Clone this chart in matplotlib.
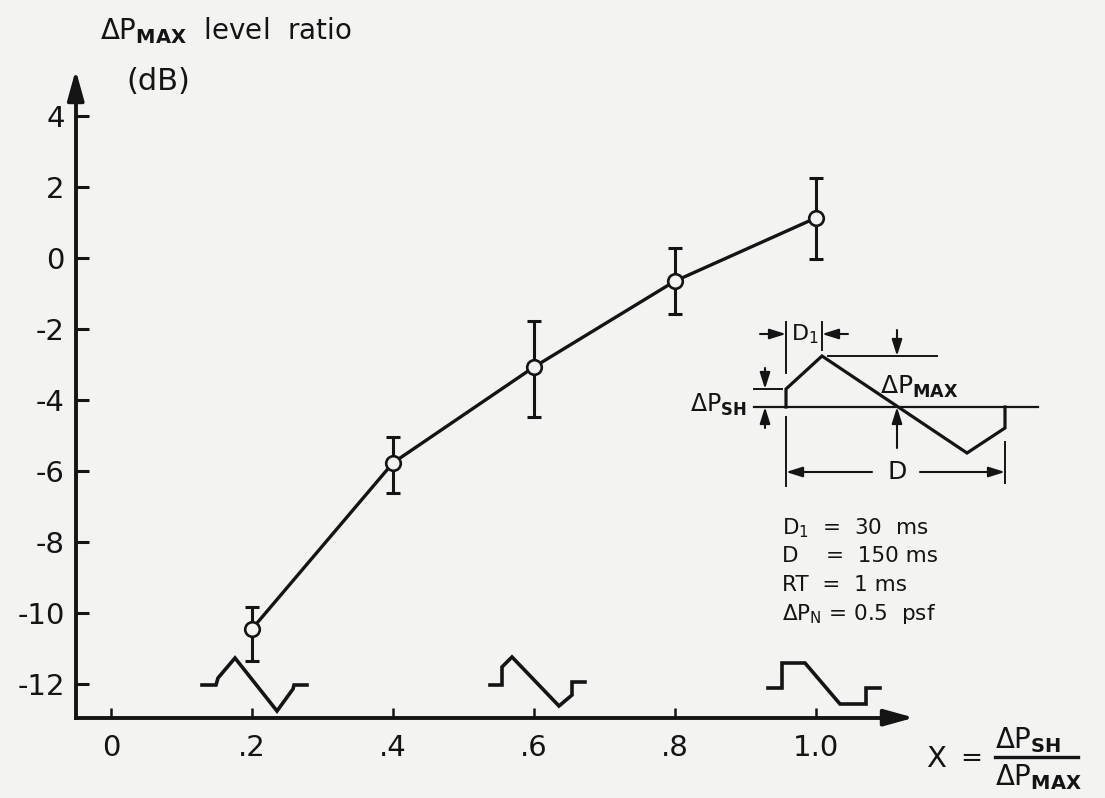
import matplotlib
matplotlib.use("Agg")
import matplotlib.pyplot as plt
from matplotlib.transforms import Affine2D
from matplotlib.lines import Line2D

# ---------------- data ----------------
x_vals = [0.2, 0.4, 0.6, 0.8, 1.0]
level_ratio_db = [-10.45, -5.77, -3.07, -0.65, 1.13]
err_upper_db = [-9.84, -5.04, -1.77, 0.28, 2.25]
err_lower_db = [-11.35, -6.62, -4.48, -1.58, -0.03]
x_ticks = [0, 0.2, 0.4, 0.6, 0.8, 1.0]
x_tick_labels = ["0", ".2", ".4", ".6", ".8", "1.0"]
y_ticks = [-12, -10, -8, -6, -4, -2, 0, 2, 4]
y_tick_labels = ["-12", "-10", "-8", "-6", "-4", "-2", "0", "2", "4"]
params_text = [r"$\mathregular{D_1}$  =  30  ms",
               r"D    =  150 ms",
               r"RT  =  1 ms",
               r"$\mathregular{\Delta P_N}$ = 0.5  psf"]

# ---------------- style ----------------
INK = "#141414"
BG = "#f3f3f1"
plt.rcParams["font.family"] = ["DejaVu Sans"]
plt.rcParams["mathtext.fontset"] = "dejavusans"

W, H = 1105, 798
fig = plt.figure(figsize=(W / 100, H / 100), dpi=100, facecolor=BG)
ax = fig.add_axes([0, 0, 1, 1], facecolor=BG)
ax.set_xlim(-111 / 705, (W - 111) / 705)
ax.set_ylim((258 - H) / 35.5, 258 / 35.5)

# pixel-space transform (origin top-left) for schematic decorations
T = Affine2D().scale(1 / W, -1 / H).translate(0, 1) + fig.transFigure

# axes as spines
for s in ["top", "right"]:
    ax.spines[s].set_visible(False)
ax.spines["left"].set_position(("data", -0.05))
ax.spines["bottom"].set_position(("data", -12.95))
ax.spines["left"].set_bounds(-12.95, 4.6)
ax.spines["bottom"].set_bounds(-0.05, 1.10)
for s in ["left", "bottom"]:
    ax.spines[s].set_linewidth(2.8)
    ax.spines[s].set_color(INK)

ax.set_xticks(x_ticks)
ax.set_xticklabels(x_tick_labels)
ax.set_yticks(y_ticks)
ax.set_yticklabels(y_tick_labels)
ax.tick_params(axis="y", direction="in", length=9, width=2.2, pad=8,
               labelsize=21, colors=INK)
ax.tick_params(axis="x", direction="in", length=7, width=1.8, pad=12,
               labelsize=21, colors=INK)

arrow_kw = dict(arrowstyle="-|>,head_length=0.9,head_width=0.25",
                color=INK, lw=2.8, mutation_scale=20, shrinkA=0, shrinkB=0)
ax.annotate("", xy=(75.75, 70), xytext=(75.75, 100), xycoords=T,
            textcoords=T, arrowprops=arrow_kw)
ax.annotate("", xy=(914, 717.7), xytext=(885, 717.7), xycoords=T,
            textcoords=T, arrowprops=arrow_kw)

# ---------------- data marks ----------------
yerr = [[y - lo for y, lo in zip(level_ratio_db, err_lower_db)],
        [hi - y for y, hi in zip(level_ratio_db, err_upper_db)]]
ax.errorbar(x_vals, level_ratio_db, yerr=yerr, fmt="none", ecolor=INK,
            elinewidth=2.2, capsize=5, capthick=2.2, zorder=2)
ax.plot(x_vals, level_ratio_db, color=INK, lw=2.4, zorder=3)
ax.plot(x_vals, level_ratio_db, linestyle="none", marker="o", ms=10.5,
        mfc=BG, mec=INK, mew=1.9, zorder=4)

# ---------------- texts ----------------
def ptext(px, py, s, **kw):
    kw.setdefault("color", INK)
    fig.text(px / W, 1 - py / H, s, **kw)

DPMAX = r"$\mathregular{\Delta P}_{\mathbf{MAX}}$"
DPSH = r"$\mathregular{\Delta P}_{\mathbf{SH}}$"

ptext(100, 31, DPMAX + "  level  ratio", fontsize=20, ha="left",
      va="center")
ptext(126, 81, "(dB)", fontsize=22, ha="left", va="center")

# x label:  X = dPsh / dPmax
ptext(926, 759, "X", fontsize=21, ha="left", va="center")
ptext(960, 759, "=", fontsize=19, ha="left", va="center")
ptext(995, 740, DPSH, fontsize=20, ha="left", va="center")
ptext(995, 777, DPMAX, fontsize=20, ha="left", va="center")

def pline(pts, lw=2.0, **kw):
    xs = [p[0] for p in pts]
    ys = [p[1] for p in pts]
    fig.add_artist(Line2D(xs, ys, transform=T, color=INK, lw=lw,
                          solid_joinstyle="miter", **kw))

pline([(995, 757), (1078, 757)], lw=2.4)

# ---------------- small waveform icons ----------------
pline([(202, 685), (216, 685), (218, 678), (235, 658), (277, 711),
       (293, 689), (294, 685), (307, 685)], lw=2.6)
pline([(490, 685), (502, 685), (502, 667), (512, 657), (559, 706),
       (572, 695), (572, 682), (585, 682)], lw=2.6)
pline([(768, 688), (782, 688), (782, 663), (805, 663), (840, 704),
       (866, 704), (866, 688), (880, 688)], lw=2.6)

# ---------------- inset schematic ----------------
small_arrow = dict(arrowstyle="-|>,head_length=0.7,head_width=0.22",
                   color=INK, lw=1.5, mutation_scale=14, shrinkA=0, shrinkB=0)

def parrow(x1, y1, x2, y2):
    ax.annotate("", xy=(x2, y2), xytext=(x1, y1), xycoords=T,
                textcoords=T, arrowprops=small_arrow)

# waveform
pline([(786, 407), (786, 389), (822, 356), (967, 453), (1005, 428),
       (1005, 407)], lw=2.3)
# baseline and step reference
pline([(754, 407), (1038, 407)], lw=1.6)
pline([(754, 389), (782, 389)], lw=1.4)
# dPsh arrows
parrow(765, 368, 765, 389)
parrow(765, 428, 765, 407)
ptext(747, 405, DPSH, fontsize=17, ha="right", va="center")
# D1 dimension
pline([(786, 322), (786, 373)], lw=1.4)
pline([(822, 322), (822, 350)], lw=1.4)
parrow(760, 334, 786, 334)
parrow(848, 334, 822, 334)
ptext(805, 334, r"$\mathregular{D_1}$", fontsize=16, ha="center",
      va="center")
# dPmax dimension
pline([(828, 356), (937, 356)], lw=1.4)
parrow(897, 330, 897, 356)
parrow(897, 448, 897, 407)
ptext(880, 387, DPMAX, fontsize=18, ha="left", va="center")
# D dimension
pline([(786, 417), (786, 486)], lw=1.4)
pline([(1005, 442), (1005, 483)], lw=1.4)
parrow(872, 472, 786, 472)
parrow(920, 472, 1005, 472)
ptext(897, 472, "D", fontsize=18, ha="center", va="center")

# parameter block
for i, line in enumerate(params_text):
    ptext(782, 528 + i * 28.5, line, fontsize=15.5, ha="left", va="center")

fig.savefig("out.png", dpi=100, facecolor=BG)
